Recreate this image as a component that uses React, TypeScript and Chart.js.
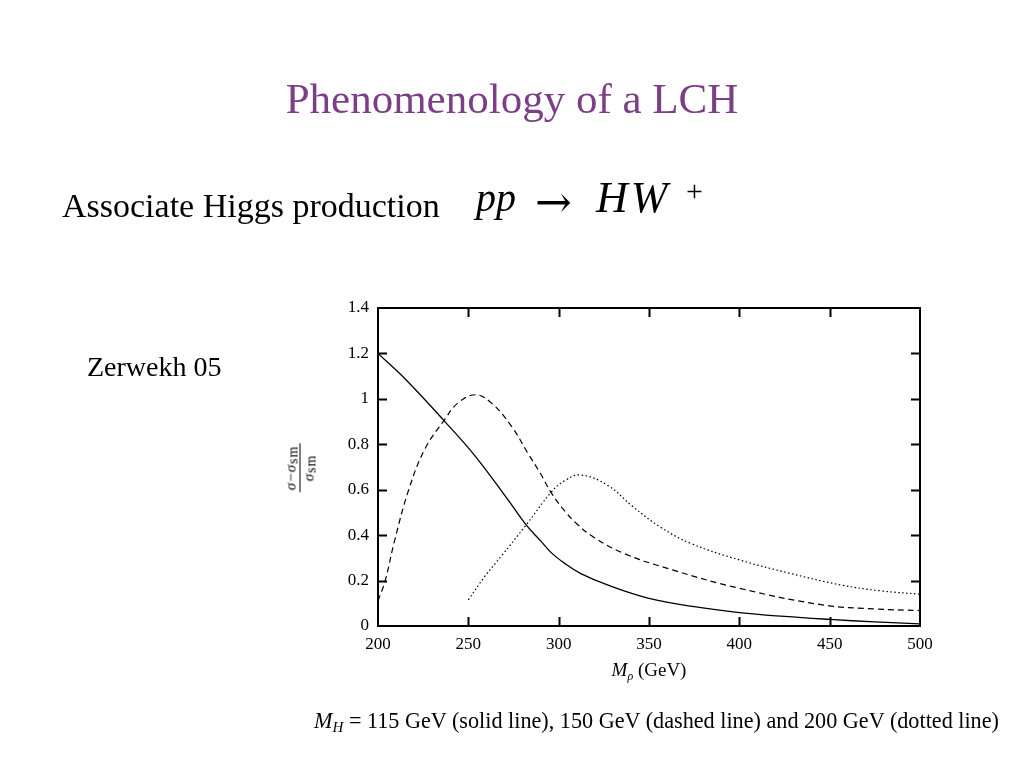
import React, { useEffect, useRef } from "react";
import { Chart, registerables } from "chart.js";

Chart.register(...registerables);

// Data (M_rho in GeV, (sigma - sigma_sm)/sigma_sm)
const solidMass = [200, 216, 237, 254, 272, 282, 290, 296, 304, 312, 327, 350, 375, 400, 425, 450, 475, 500];
const solidValues = [1.2, 1.08, 0.9, 0.746, 0.555, 0.445, 0.375, 0.322, 0.272, 0.232, 0.181, 0.122, 0.085, 0.059, 0.042, 0.029, 0.018, 0.009];

const dashedMass = [200, 204, 209, 217, 226, 237, 244, 254, 263, 274, 283, 290, 296, 304, 310, 319, 336, 363, 400, 446, 475, 500];
const dashedValues = [0.11, 0.2, 0.37, 0.6, 0.78, 0.91, 0.98, 1.018, 0.98, 0.878, 0.76, 0.67, 0.585, 0.5, 0.45, 0.393, 0.32, 0.247, 0.166, 0.093, 0.075, 0.068];

const dottedMass = [250, 259, 268.5, 282, 296, 303, 312, 327, 341, 356, 373, 400, 428, 456, 478, 500];
const dottedValues = [0.115, 0.217, 0.31, 0.445, 0.59, 0.638, 0.665, 0.62, 0.526, 0.437, 0.364, 0.291, 0.232, 0.181, 0.155, 0.14];

const xTicks = [200, 250, 300, 350, 400, 450, 500];
const yTicks = [0, 0.2, 0.4, 0.6, 0.8, 1, 1.2, 1.4];

const toPoints = (xs: number[], ys: number[]) => xs.map((x, i) => ({ x, y: ys[i] }));

const framePlugin = {
  id: "frameTicks",
  afterDraw(chart: any) {
    const { ctx, chartArea } = chart;
    const xs = chart.scales.x;
    const ys = chart.scales.y;
    const { left, right, top, bottom } = chartArea;
    const tl = 9;
    ctx.save();
    ctx.strokeStyle = "#000";
    ctx.lineWidth = 2;
    ctx.beginPath();
    xTicks.slice(1, -1).forEach((v) => {
      const px = Math.round(xs.getPixelForValue(v)) + 0.5;
      ctx.moveTo(px, bottom);
      ctx.lineTo(px, bottom - tl);
      ctx.moveTo(px, top);
      ctx.lineTo(px, top + tl);
    });
    yTicks.slice(1, -1).forEach((v) => {
      const py = Math.round(ys.getPixelForValue(v)) + 0.5;
      ctx.moveTo(left, py);
      ctx.lineTo(left + tl, py);
      ctx.moveTo(right, py);
      ctx.lineTo(right - tl, py);
    });
    ctx.stroke();
    ctx.strokeRect(left, top, right - left, bottom - top);
    ctx.restore();
  },
};

const SERIF = "'Liberation Serif', 'Times New Roman', serif";

// Text placed by its baseline
function T(props: { x: number; base: number; size: number; children: any; style?: any; center?: boolean }) {
  const { x, base, size, children, style, center } = props;
  return (
    <div
      style={{
        position: "absolute",
        left: x,
        top: base - 0.8375 * size,
        fontSize: size,
        lineHeight: size + "px",
        fontFamily: SERIF,
        color: "#000",
        whiteSpace: "nowrap",
        transform: center ? "translateX(-50%)" : undefined,
        ...style,
      }}
    >
      {children}
    </div>
  );
}

export default function App() {
  const canvasRef = useRef<HTMLCanvasElement | null>(null);

  useEffect(() => {
    const canvas = canvasRef.current;
    if (!canvas) return;
    const common = { borderColor: "#000", pointRadius: 0, tension: 0.4, fill: false };
    const chart = new Chart(canvas, {
      type: "line",
      data: {
        datasets: [
          { label: "115 GeV", data: toPoints(solidMass, solidValues), borderWidth: 1.3, ...common },
          { label: "150 GeV", data: toPoints(dashedMass, dashedValues), borderWidth: 1.2, borderDash: [6, 4], ...common },
          { label: "200 GeV", data: toPoints(dottedMass, dottedValues), borderWidth: 1.2, borderDash: [1.5, 2.5], ...common },
        ],
      },
      options: {
        responsive: false,
        animation: false,
        devicePixelRatio: 1,
        layout: { padding: { left: 328, right: 104, top: 308, bottom: 102 } },
        plugins: { legend: { display: false }, tooltip: { enabled: false } },
        scales: {
          x: {
            type: "linear",
            min: 200,
            max: 500,
            afterBuildTicks: (s: any) => {
              s.ticks = xTicks.map((v) => ({ value: v }));
            },
            afterFit: (s: any) => {
              s.height = 40;
            },
            grid: { display: false, drawTicks: false },
            border: { display: false },
            ticks: {
              padding: 8,
              color: "#000",
              font: { family: "Liberation Serif", size: 17 },
              maxRotation: 0,
            },
          },
          y: {
            type: "linear",
            min: 0,
            max: 1.4,
            afterBuildTicks: (s: any) => {
              s.ticks = yTicks.map((v) => ({ value: v }));
            },
            afterFit: (s: any) => {
              s.width = 50;
            },
            grid: { display: false, drawTicks: false },
            border: { display: false },
            ticks: {
              padding: 9,
              color: "#000",
              font: { family: "Liberation Serif", size: 17 },
              callback: (v: any) => String(Math.round(Number(v) * 10) / 10),
            },
          },
        },
      },
      plugins: [framePlugin],
    } as any);
    return () => chart.destroy();
  }, []);

  return (
    <div style={{ position: "absolute", left: 0, top: 0, width: 1024, height: 768, background: "#fff", fontFamily: SERIF }}>
      <canvas ref={canvasRef} width={1024} height={768} style={{ position: "absolute", left: 0, top: 0, width: 1024, height: 768 }} />

      <div
        style={{
          position: "absolute",
          left: 0,
          top: 113 - 0.8375 * 43,
          width: 1024,
          textAlign: "center",
          fontSize: 43,
          lineHeight: "43px",
          color: "#7b3f87",
          fontFamily: SERIF,
          whiteSpace: "nowrap",
        }}
      >
        Phenomenology of a LCH
      </div>

      <T x={62} base={217} size={34}>Associate Higgs production</T>

      <T x={476} base={211} size={40}><i>pp</i></T>
      <T x={535} base={217} size={44} style={{ fontFamily: "'DejaVu Serif', serif" }}>→</T>
      <T x={596} base={213} size={44}><i style={{ letterSpacing: 3 }}>HW</i></T>
      <T x={686} base={201} size={30}>+</T>

      <T x={87} base={376} size={28}>Zerwekh 05</T>

      {/* y-axis label: rotated fraction */}
      <div
        style={{
          position: "absolute",
          left: 300,
          top: 468,
          transform: "translate(-50%, -50%) rotate(-90deg)",
          fontSize: 15,
          fontFamily: SERIF,
          color: "#000",
          display: "flex",
          flexDirection: "column",
          alignItems: "center",
          lineHeight: "14px",
          whiteSpace: "nowrap",
        }}
      >
        <span style={{ borderBottom: "1.5px solid #000", padding: "0 2px 1px 2px", letterSpacing: 1 }}>
          <i>σ</i>−<i>σ</i><span style={{ fontSize: 14, position: "relative", top: 2 }}>sm</span>
        </span>
        <span style={{ letterSpacing: 1, paddingTop: 1 }}>
          <i>σ</i><span style={{ fontSize: 14, position: "relative", top: 2 }}>sm</span>
        </span>
      </div>

      <T x={649} base={676} size={19} center>
        <i>M</i>
        <span style={{ fontSize: 12, position: "relative", top: 4 }}><i>ρ</i></span>
        &nbsp;(GeV)
      </T>

      <T x={314} base={729} size={22.2}>
        <i>M</i>
        <span style={{ fontSize: 15, position: "relative", top: 4 }}><i>H</i></span> = 115 GeV (solid line), 150 GeV (dashed line) and 200 GeV (dotted line)
      </T>
    </div>
  );
}
